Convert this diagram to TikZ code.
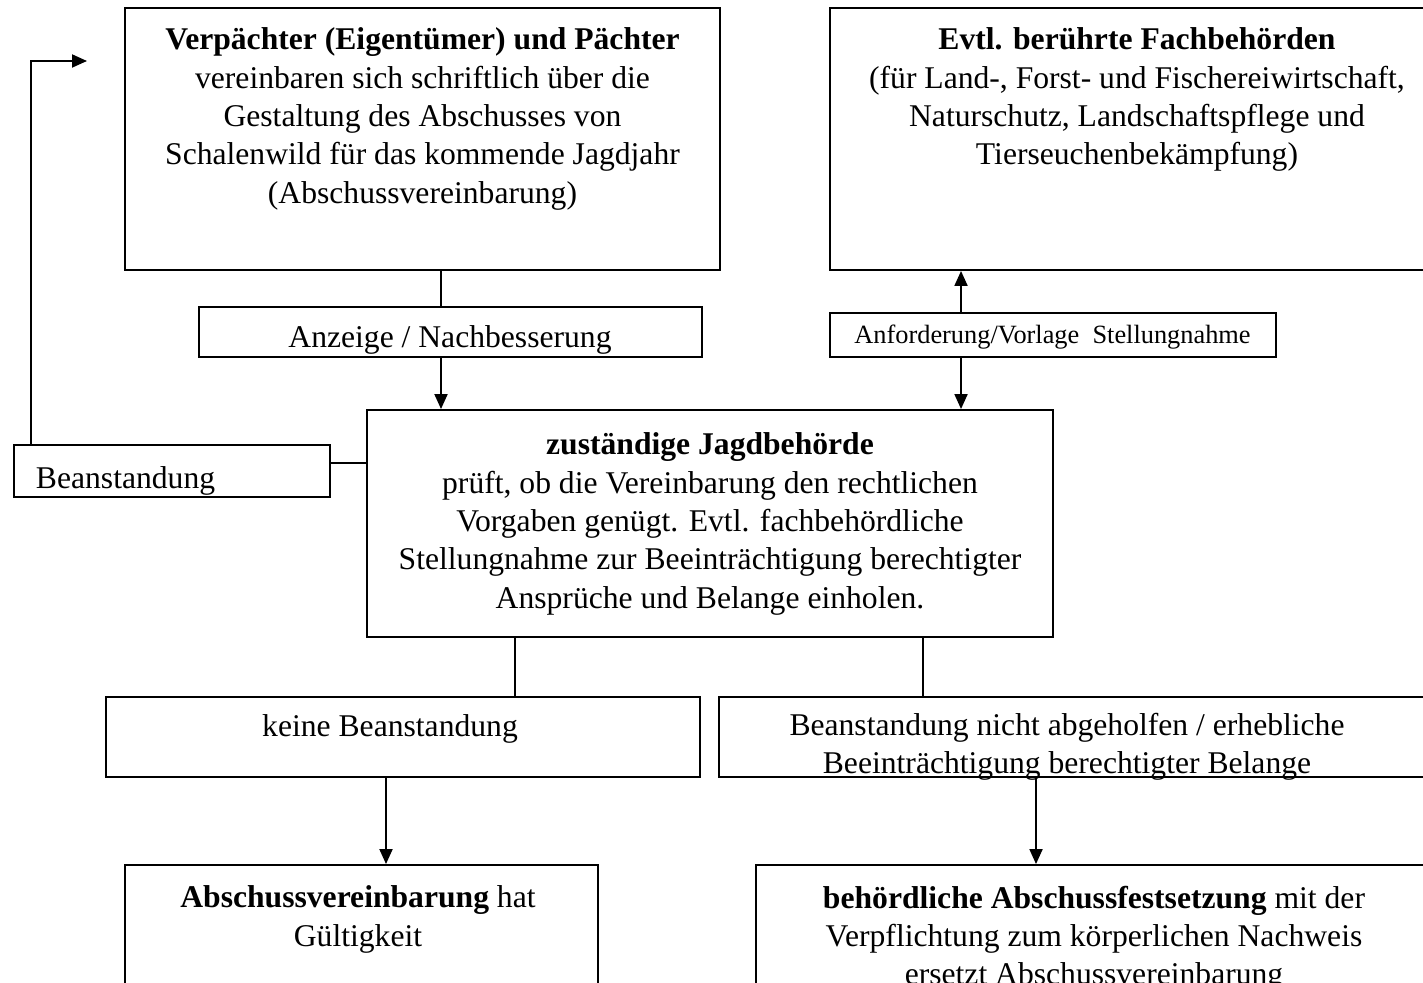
\documentclass[tikz,border=0pt]{standalone}
\usepackage{fontspec}
\setmainfont{Liberation Serif}
\usetikzlibrary{calc,arrows.meta}

\begin{document}
\begin{tikzpicture}[%
                      x=0.02cm, y=-0.02cm,
                      line width=1.1pt,
                      box/.style={draw, inner sep=0pt},
                      txt/.style={align=center, inner sep=0pt, font=\fontsize{18}{21.8}\selectfont},
                      klein/.style={inner sep=0pt, font=\fontsize{15}{18}\selectfont},
                      pfeil/.style={-{Triangle[length=0.3cm,width=0.26cm]}}
                  ]
                      \useasboundingbox (0,0) rectangle (1423,983);

                      % Kaesten
                      \node[box, minimum width=11.9cm,  minimum height=5.24cm] (verp)    at (422.5,139)  {};
                      \node[box, minimum width=12.4cm,  minimum height=5.24cm] (fach)    at (1140,139)   {};
                      \node[box, minimum width=10.06cm, minimum height=1cm]    (anz)     at (450.5,332)  {};
                      \node[box, minimum width=8.92cm,  minimum height=0.88cm] (anf)     at (1053,335)   {};
                      \node[box, minimum width=13.72cm, minimum height=4.54cm] (jagd)    at (710,523.5)  {};
                      \node[box, minimum width=6.32cm,  minimum height=1.04cm] (bean)    at (172,471)    {};
                      \node[box, minimum width=11.88cm, minimum height=1.6cm]  (keine)   at (403,737)    {};
                      \node[box, minimum width=14.62cm, minimum height=1.6cm]  (nicht)   at (1084.5,737) {};
                      \node[box, minimum width=9.46cm,  minimum height=2.9cm]  (gueltig) at (361.5,937.5) {};
                      \node[box, minimum width=13.88cm, minimum height=2.9cm]  (fest)    at (1103,937.5) {};

                      % Texte
                      \node[txt, anchor=north] (verp-t) at (422.5,27) {%
                          \textbf{Verpächter (Eigentümer) und Pächter}\\
                          vereinbaren sich schriftlich über die\\
                          Gestaltung des Abschusses von\\
                          Schalenwild für das kommende Jagdjahr\\
                          (Abschussvereinbarung)};
                      \node[txt, anchor=north] (fach-t) at (1137,27) {%
                          \textbf{Evtl. berührte Fachbehörden}\\
                          (für Land-, Forst- und Fischereiwirtschaft,\\
                          Naturschutz, Landschaftspflege und\\
                          Tierseuchenbekämpfung)};
                      \node[txt, anchor=base] (anz-t) at (450,347) {Anzeige / Nachbesserung};
                      \node[klein, anchor=base] (anf-t) at (1052.5,343) {Anforderung/Vorlage~ Stellungnahme};
                      \node[txt, anchor=north] (jagd-t) at (710,432) {%
                          \textbf{zuständige Jagdbehörde}\\
                          prüft, ob die Vereinbarung den rechtlichen\\
                          Vorgaben genügt. Evtl. fachbehördliche\\
                          Stellungnahme zur Beeinträchtigung berechtigter\\
                          Ansprüche und Belange einholen.};
                      \node[txt, anchor=base west] (bean-t) at (35,488) {Beanstandung};
                      \node[txt, anchor=base] (keine-t) at (390,736) {keine Beanstandung};
                      \node[txt, anchor=north] (nicht-t) at (1067,712) {%
                          Beanstandung nicht abgeholfen / erhebliche\\
                          Beeinträchtigung berechtigter Belange};
                      \node[txt, anchor=north] (gueltig-t) at (358,885) {%
                          \textbf{Abschussvereinbarung} hat\\
                          Gültigkeit};
                      \node[txt, anchor=north] (fest-t) at (1094,885) {%
                          \textbf{behördliche Abschussfestsetzung} mit der\\
                          Verpflichtung zum körperlichen Nachweis\\
                          ersetzt Abschussvereinbarung};

                      \coordinate (zurueck) at (87,61);

                      % Verbindungen
                      \path ([xshift=0.37cm]verp.south)   edge         ([xshift=0.37cm]verp.south |- anz.north)
                            ([xshift=-0.19cm]anz.south)   edge[pfeil]  ([xshift=-0.19cm]anz.south |- jagd.north)
                            ([xshift=-1.84cm]anf.north)   edge[pfeil]  ([xshift=-1.84cm]anf.north |- fach.south)
                            ([xshift=-1.84cm]anf.south)   edge[pfeil]  ([xshift=-1.84cm]anf.south |- jagd.north)
                            ([yshift=0.16cm]bean.east)    edge         ([yshift=0.16cm]bean.east -| jagd.west)
                            ([xshift=-3.9cm]jagd.south)   edge         ([xshift=-3.9cm]jagd.south |- keine.north)
                            ([xshift=4.26cm]jagd.south)   edge         ([xshift=4.26cm]jagd.south |- nicht.north)
                            ([xshift=-0.34cm]keine.south) edge[pfeil]  ([xshift=-0.34cm]keine.south |- gueltig.north)
                            ([xshift=-0.97cm]nicht.south) edge[pfeil]  ([xshift=-0.97cm]nicht.south |- fest.north);
                      \draw[pfeil] ([xshift=0.36cm]bean.north west) |- (zurueck);
                  \end{tikzpicture}
\end{document}
